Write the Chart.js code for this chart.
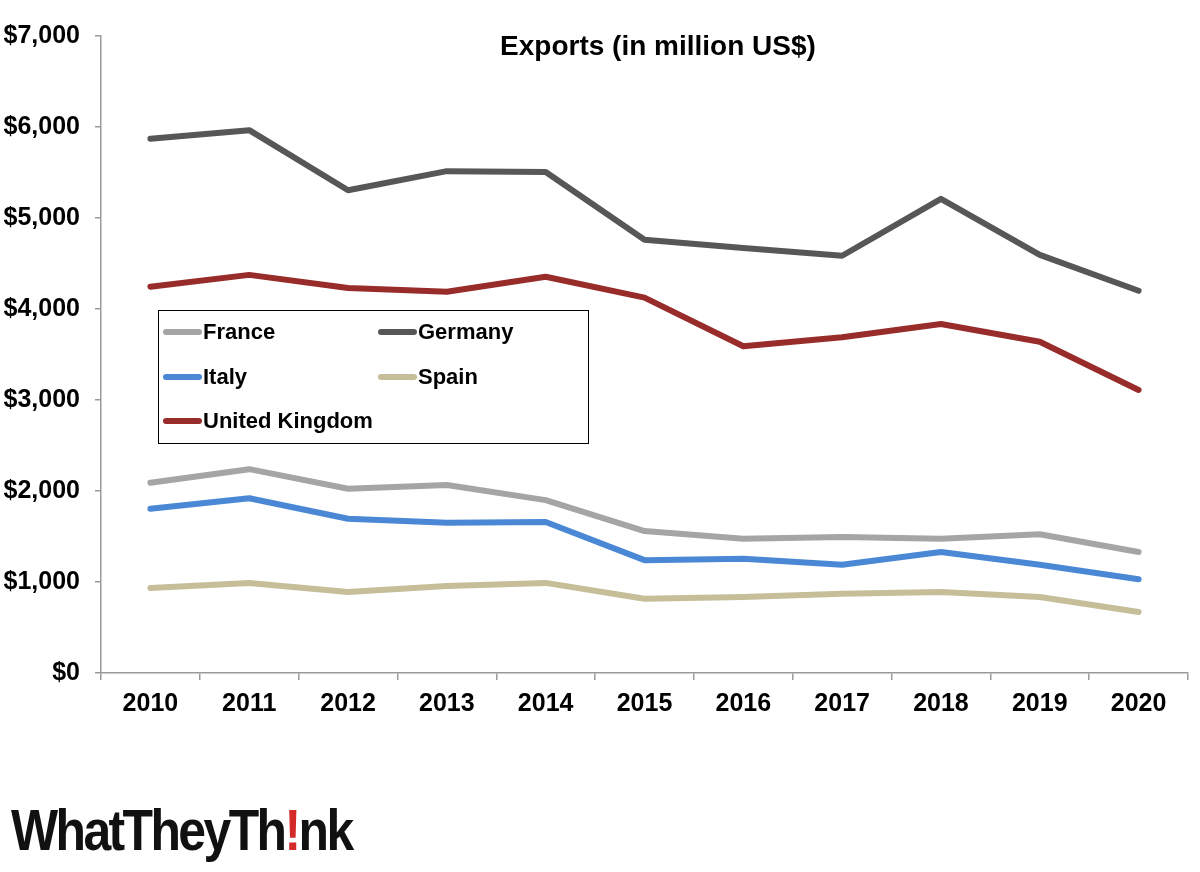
<!DOCTYPE html>
<html>
<head>
<meta charset="utf-8">
<script src="https://cdn.jsdelivr.net/npm/chart.js@4.4.1/dist/chart.umd.min.js"></script>
<style>
  html, body { margin: 0; padding: 0; background: #fff; }
  #wrap { position: relative; width: 1200px; height: 872px; }
  #c { position: absolute; left: 0; top: 0; }
  #logo { position: absolute; left: 11px; top: 796px; font-family: "Liberation Sans", Arial, sans-serif; font-weight: bold;
          font-size: 58px; letter-spacing: -3px; color: #111; transform-origin: left top; transform: scaleX(0.86); white-space: nowrap; }
  #logo .ex { color: #d42a2a; }
</style>
</head>
<body>
<div id="wrap">
  <canvas id="c" width="1200" height="872"></canvas>
  <div id="logo">WhatTheyTh<span class="ex">!</span>nk</div>
</div>
<script>
const years = ["2010","2011","2012","2013","2014","2015","2016","2017","2018","2019","2020"];
const france  = [2090, 2240, 2025, 2065, 1900, 1560, 1475, 1495, 1475, 1525, 1330];
const germany = [5870, 5965, 5305, 5515, 5505, 4760, 4670, 4585, 5210, 4595, 4200];
const italy   = [1805, 1920, 1695, 1650, 1660, 1240, 1255, 1190, 1330, 1190, 1030];
const spain   = [935, 990, 890, 955, 990, 815, 835, 870, 890, 835, 670];
const uk      = [4245, 4375, 4230, 4190, 4355, 4125, 3590, 3690, 3835, 3640, 3110];
const yTicks  = [0, 1000, 2000, 3000, 4000, 5000, 6000, 7000];
const chartTitle = "Exports (in million US$)";

const FONT = '"Liberation Sans", Arial, sans-serif';

function ds(label, data, color) {
  return { label, data, borderColor: color, backgroundColor: color, borderWidth: 6,
           pointRadius: 0, pointHoverRadius: 0, tension: 0, fill: false,
           borderCapStyle: 'round', borderJoinStyle: 'round' };
}

const titlePlugin = {
  id: 'customTitleLegend',
  afterDraw(chart) {
    const ctx = chart.ctx;
    ctx.save();
    ctx.fillStyle = '#000';
    ctx.font = 'bold 28px "Liberation Sans", Arial, sans-serif';
    ctx.textAlign = 'center';
    ctx.textBaseline = 'middle';
    ctx.fillText(chartTitle, 658, 47);
    ctx.strokeStyle = '#000';
    ctx.lineWidth = 1;
    ctx.strokeRect(158.5, 310.5, 430, 133);
    const pos = [[163, 332], [378, 332], [163, 377], [378, 377], [163, 421]];
    ctx.font = 'bold 22px "Liberation Sans", Arial, sans-serif';
    ctx.textAlign = 'left';
    chart.data.datasets.forEach((d, i) => {
      const [x, y] = pos[i];
      ctx.strokeStyle = d.borderColor;
      ctx.lineWidth = 6;
      ctx.lineCap = 'round';
      ctx.beginPath();
      ctx.moveTo(x + 3, y);
      ctx.lineTo(x + 36, y);
      ctx.stroke();
      ctx.fillStyle = '#000';
      ctx.fillText(d.label, x + 40, y + 1);
    });
    ctx.restore();
  }
};

new Chart(document.getElementById('c'), {
  type: 'line',
  data: {
    labels: years,
    datasets: [
      ds('France', france, '#a5a5a5'),
      ds('Germany', germany, '#575757'),
      ds('Italy', italy, '#4a88d6'),
      ds('Spain', spain, '#c6be98'),
      ds('United Kingdom', uk, '#972c2a')
    ]
  },
  options: {
    responsive: false,
    animation: false,
    events: [],
    layout: { padding: { top: 36, right: 12, left: 0, bottom: 0 } },
    plugins: { legend: { display: false }, title: { display: false }, tooltip: { enabled: false } },
    scales: {
      x: {
        offset: true,
        grid: { display: true, offset: true, drawOnChartArea: false, drawTicks: true, tickLength: 7, color: '#9a9a9a', lineWidth: 1.5 },
        border: { display: true, color: '#9a9a9a', width: 1.5 },
        ticks: { color: '#000', font: { family: FONT, weight: 'bold', size: 25 }, padding: 9, maxRotation: 0 },
        afterFit(scale) { scale.height = 199; }
      },
      y: {
        min: 0, max: 7000,
        afterBuildTicks(scale) { scale.ticks = yTicks.map(v => ({ value: v })); },
        grid: { display: true, drawOnChartArea: false, drawTicks: true, tickLength: 6, color: '#9a9a9a', lineWidth: 1.5 },
        border: { display: true, color: '#9a9a9a', width: 1.5 },
        ticks: { color: '#000', font: { family: FONT, weight: 'bold', size: 25 }, padding: 15,
                 callback: v => '$' + Number(v).toLocaleString('en-US') },
        afterFit(scale) { scale.width = 101; }
      }
    }
  },
  plugins: [titlePlugin]
});
</script>
</body>
</html>
